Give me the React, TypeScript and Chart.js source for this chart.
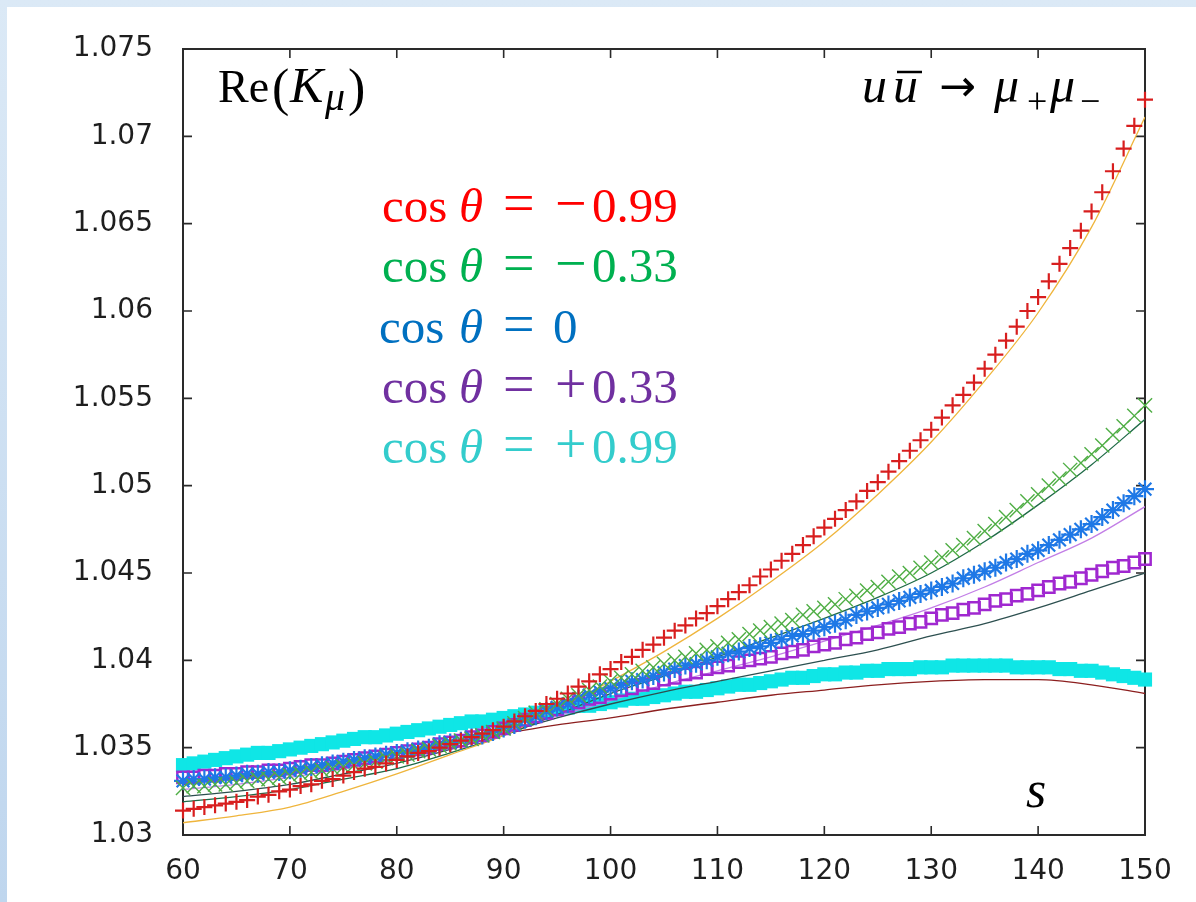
import React, { useEffect, useRef } from "react";
import { Chart, registerables } from "chart.js";

Chart.register(...registerables);

// s values for marker series
const sPoints = [
  60, 61, 62, 63, 64, 65, 66, 67, 68, 69,
  70, 71, 72, 73, 74, 75, 76, 77, 78, 79,
  80, 81, 82, 83, 84, 85, 86, 87, 88, 89,
  90, 91, 92, 93, 94, 95, 96, 97, 98, 99,
  100, 101, 102, 103, 104, 105, 106, 107, 108, 109,
  110, 111, 112, 113, 114, 115, 116, 117, 118, 119,
  120, 121, 122, 123, 124, 125, 126, 127, 128, 129,
  130, 131, 132, 133, 134, 135, 136, 137, 138, 139,
  140, 141, 142, 143, 144, 145, 146, 147, 148, 149,
  150,
];

// s values for thin line series
const sLine = [60, 65, 70, 75, 80, 85, 90, 95, 100, 105, 110, 115, 120, 125, 130, 135, 140, 145, 150];

// cos θ = -0.99 (red +)
const redPlus = [
  1.0314, 1.0315, 1.0316, 1.0317, 1.0318, 1.0319, 1.032, 1.0322, 1.0323, 1.0325,
  1.0326, 1.0328, 1.0329, 1.0331, 1.0332, 1.0334, 1.0336, 1.0338, 1.0339, 1.0341,
  1.0343, 1.0345, 1.0347, 1.0348, 1.035, 1.0352, 1.0354, 1.0356, 1.0358, 1.036,
  1.0362, 1.0365, 1.0368, 1.0371, 1.0375, 1.0378, 1.0381, 1.0385, 1.0388, 1.0392,
  1.0395, 1.0399, 1.0402, 1.0406, 1.0409, 1.0413, 1.0417, 1.042, 1.0424, 1.0427,
  1.0431, 1.0435, 1.0439, 1.0443, 1.0448, 1.0452, 1.0457, 1.0461, 1.0466, 1.0471,
  1.0476, 1.0481, 1.0486, 1.0491, 1.0497, 1.0502, 1.0508, 1.0514, 1.052, 1.0526,
  1.0532, 1.0539, 1.0546, 1.0552, 1.0559, 1.0567, 1.0575, 1.0583, 1.0591, 1.06,
  1.0608, 1.0617, 1.0627, 1.0636, 1.0646, 1.0657, 1.0668, 1.068, 1.0693, 1.0706,
  1.0721,
];

// cos θ = -0.33 (green x)
const greenX = [
  1.0327, 1.0328, 1.0328, 1.0329, 1.0329, 1.033, 1.0331, 1.0332, 1.0332, 1.0333,
  1.0334, 1.0335, 1.0336, 1.0337, 1.0338, 1.0339, 1.034, 1.0341, 1.0342, 1.0344,
  1.0345, 1.0346, 1.0348, 1.0349, 1.0351, 1.0352, 1.0354, 1.0355, 1.0357, 1.0359,
  1.0361, 1.0364, 1.0367, 1.037, 1.0372, 1.0375, 1.0378, 1.038, 1.0383, 1.0385,
  1.0388, 1.039, 1.0392, 1.0394, 1.0396, 1.0398, 1.04, 1.0402, 1.0404, 1.0406,
  1.0408, 1.041, 1.0412, 1.0415, 1.0417, 1.0419, 1.0421, 1.0423, 1.0426, 1.0428,
  1.043, 1.0432, 1.0435, 1.0437, 1.044, 1.0442, 1.0445, 1.0448, 1.045, 1.0453,
  1.0456, 1.0459, 1.0463, 1.0466, 1.047, 1.0474, 1.0478, 1.0482, 1.0486, 1.0491,
  1.0495, 1.05, 1.0504, 1.0509, 1.0513, 1.0518, 1.0523, 1.0529, 1.0534, 1.054,
  1.0546,
];

// cos θ = 0 (blue *)
const blueStar = [
  1.0331, 1.0332, 1.0332, 1.0333, 1.0333, 1.0334, 1.0335, 1.0335, 1.0336, 1.0336,
  1.0337, 1.0338, 1.0339, 1.034, 1.0341, 1.0342, 1.0343, 1.0344, 1.0345, 1.0346,
  1.0347, 1.0348, 1.0349, 1.035, 1.0352, 1.0353, 1.0354, 1.0356, 1.0357, 1.0359,
  1.0361, 1.0363, 1.0366, 1.0368, 1.0371, 1.0373, 1.0375, 1.0378, 1.038, 1.0382,
  1.0384, 1.0386, 1.0388, 1.0389, 1.0391, 1.0393, 1.0395, 1.0397, 1.0398, 1.04,
  1.0402, 1.0404, 1.0405, 1.0407, 1.0408, 1.041, 1.0412, 1.0414, 1.0415, 1.0417,
  1.0419, 1.0421, 1.0423, 1.0426, 1.0428, 1.043, 1.0432, 1.0434, 1.0436, 1.0438,
  1.044, 1.0442, 1.0444, 1.0447, 1.0449, 1.0451, 1.0453, 1.0456, 1.0458, 1.0461,
  1.0463, 1.0466, 1.0469, 1.0472, 1.0475, 1.0478, 1.0482, 1.0486, 1.049, 1.0494,
  1.0498,
];

// cos θ = +0.33 (purple open squares)
const purpleSquare = [
  1.0333, 1.0333, 1.0334, 1.0334, 1.0335, 1.0335, 1.0336, 1.0336, 1.0337, 1.0337,
  1.0338, 1.0339, 1.034, 1.034, 1.0341, 1.0342, 1.0343, 1.0344, 1.0345, 1.0346,
  1.0347, 1.0348, 1.0349, 1.035, 1.0352, 1.0353, 1.0354, 1.0356, 1.0357, 1.0359,
  1.0361, 1.0363, 1.0366, 1.0368, 1.037, 1.0372, 1.0374, 1.0376, 1.0378, 1.0379,
  1.0381, 1.0383, 1.0384, 1.0386, 1.0387, 1.0389, 1.039, 1.0392, 1.0393, 1.0395,
  1.0396, 1.0397, 1.0399, 1.04, 1.0401, 1.0402, 1.0404, 1.0405, 1.0406, 1.0408,
  1.0409, 1.041, 1.0412, 1.0413, 1.0415, 1.0416, 1.0418, 1.0419, 1.0421, 1.0422,
  1.0424, 1.0426, 1.0427, 1.0429, 1.043, 1.0432, 1.0434, 1.0435, 1.0437, 1.0438,
  1.044, 1.0442, 1.0444, 1.0445, 1.0447, 1.0449, 1.0451, 1.0453, 1.0454, 1.0456,
  1.0458,
];

// cos θ = +0.99 (cyan filled squares)
const cyanSquare = [
  1.034, 1.0341, 1.0342, 1.0343, 1.0344, 1.0345, 1.0346, 1.0347, 1.0347, 1.0348,
  1.0349, 1.035, 1.0351, 1.0352, 1.0353, 1.0354, 1.0355, 1.0356, 1.0356, 1.0357,
  1.0358, 1.0359, 1.036, 1.0361, 1.0362, 1.0363, 1.0364, 1.0365, 1.0365, 1.0366,
  1.0367, 1.0368, 1.0369, 1.037, 1.0371, 1.0372, 1.0373, 1.0374, 1.0374, 1.0375,
  1.0376, 1.0377, 1.0378, 1.0378, 1.0379, 1.038, 1.0381, 1.0382, 1.0382, 1.0383,
  1.0384, 1.0385, 1.0386, 1.0386, 1.0387, 1.0388, 1.0389, 1.039, 1.039, 1.0391,
  1.0392, 1.0392, 1.0393, 1.0393, 1.0394, 1.0394, 1.0395, 1.0395, 1.0395, 1.0396,
  1.0396, 1.0396, 1.0397, 1.0397, 1.0397, 1.0397, 1.0397, 1.0397, 1.0396, 1.0396,
  1.0396, 1.0396, 1.0395, 1.0395, 1.0394, 1.0394, 1.0393, 1.0392, 1.0391, 1.039,
  1.0389,
];

// thin companion curves
const orangeLine = [1.0307, 1.0311, 1.0316, 1.0325, 1.0335, 1.0346, 1.0357, 1.0372, 1.0388, 1.0405, 1.0424, 1.0445, 1.0468, 1.0495, 1.0525, 1.056, 1.0599, 1.0648, 1.0711];
const darkGreenLine = [1.0319, 1.0322, 1.0326, 1.0332, 1.0338, 1.0347, 1.0357, 1.0369, 1.0381, 1.0391, 1.0402, 1.0413, 1.0424, 1.0436, 1.045, 1.0468, 1.0489, 1.0512, 1.0538];
const violetLine = [1.0326, 1.0329, 1.0333, 1.0338, 1.0344, 1.0351, 1.0359, 1.0368, 1.0377, 1.0386, 1.0394, 1.0402, 1.0411, 1.042, 1.043, 1.0442, 1.0456, 1.047, 1.0488];
const slateLine = [1.0322, 1.0325, 1.0329, 1.0335, 1.0341, 1.0349, 1.0358, 1.0367, 1.0375, 1.0382, 1.0388, 1.0394, 1.04, 1.0406, 1.0414, 1.0421, 1.043, 1.044, 1.045];
const brownLine = [1.0329, 1.0333, 1.0337, 1.0342, 1.0347, 1.0353, 1.0358, 1.0363, 1.0367, 1.0372, 1.0376, 1.038, 1.0383, 1.0386, 1.0388, 1.0389, 1.0389, 1.0386, 1.0381];

const xTicks = [60, 70, 80, 90, 100, 110, 120, 130, 140, 150];
const yTicks = [1.03, 1.035, 1.04, 1.045, 1.05, 1.055, 1.06, 1.065, 1.07, 1.075];

const legendLabels = [
  { sign: "\u2212", num: "0.99", color: "#ff0000" },
  { sign: "\u2212", num: "0.33", color: "#00b050" },
  { sign: "", num: "0", color: "#0070c0" },
  { sign: "+", num: "0.33", color: "#7030a0" },
  { sign: "+", num: "0.99", color: "#33cccc" },
];

const pts = (xs: number[], ys: number[]) => xs.map((x, i) => ({ x, y: ys[i] }));

const SERIF = "'Liberation Serif', 'DejaVu Serif', serif";

const framePlugin = {
  id: "frame",
  beforeDatasetsDraw(chart: any) {
    const { ctx, chartArea } = chart;
    const { left, right, top, bottom } = chartArea;
    const xs = chart.scales.x;
    const ys = chart.scales.y;
    ctx.save();
    ctx.strokeStyle = "#2a2a2a";
    ctx.lineWidth = 1.6;
    const tl = 9;
    ctx.beginPath();
    xTicks.forEach((v) => {
      const px = xs.getPixelForValue(v);
      ctx.moveTo(px, bottom);
      ctx.lineTo(px, bottom - tl);
      ctx.moveTo(px, top);
      ctx.lineTo(px, top + tl);
    });
    yTicks.forEach((v) => {
      const py = ys.getPixelForValue(v);
      ctx.moveTo(left, py);
      ctx.lineTo(left + tl, py);
      ctx.moveTo(right, py);
      ctx.lineTo(right - tl, py);
    });
    ctx.stroke();
    ctx.lineWidth = 2;
    ctx.strokeRect(left, top, right - left, bottom - top);
    ctx.restore();
  },
};

const textPlugin = {
  id: "texts",
  afterDraw(chart: any) {
    const { ctx } = chart;
    ctx.save();
    ctx.textAlign = "left";
    ctx.textBaseline = "alphabetic";
    ctx.fillStyle = "#000000";
    // Re(K_mu)
    ctx.font = `46px ${SERIF}`;
    ctx.fillText("Re", 218, 102);
    ctx.font = `52px ${SERIF}`;
    ctx.fillText("(", 272, 105);
    ctx.font = `italic 50px ${SERIF}`;
    ctx.fillText("K", 290, 102);
    ctx.font = `italic 40px ${SERIF}`;
    ctx.fillText("\u03bc", 325, 110);
    ctx.font = `52px ${SERIF}`;
    ctx.fillText(")", 348, 105);

    // u ubar -> mu+ mu-
    ctx.font = `italic 50px ${SERIF}`;
    ctx.fillText("u", 862, 102);
    ctx.fillText("u", 893, 102);
    ctx.strokeStyle = "#000";
    ctx.lineWidth = 2.5;
    ctx.beginPath();
    ctx.moveTo(897, 72);
    ctx.lineTo(922, 72);
    ctx.stroke();
    ctx.font = `44px 'DejaVu Sans', sans-serif`;
    ctx.fillText("\u2192", 939, 101);
    ctx.font = `italic 50px ${SERIF}`;
    ctx.fillText("\u03bc", 994, 102);
    ctx.font = `36px ${SERIF}`;
    ctx.fillText("+", 1027, 113);
    ctx.font = `italic 50px ${SERIF}`;
    ctx.fillText("\u03bc", 1050, 102);
    ctx.font = `36px ${SERIF}`;
    ctx.fillText("\u2212", 1080, 113);

    // s
    ctx.font = `italic 52px ${SERIF}`;
    ctx.fillText("s", 1026, 807);

    // legend text
    legendLabels.forEach((l, i) => {
      const yb = 222 + i * 60.3;
      ctx.fillStyle = l.color;
      ctx.font = `49px ${SERIF}`;
      ctx.fillText("cos", i === 2 ? 379 : 382, yb);
      ctx.font = `italic 49px ${SERIF}`;
      ctx.fillText("\u03b8", 459, yb);
      ctx.font = `56px ${SERIF}`;
      ctx.fillText("=", 503, yb);
      if (l.sign) {
        ctx.fillText(l.sign, 555, yb);
        ctx.font = `49px ${SERIF}`;
        ctx.fillText(l.num, 592, yb);
      } else {
        ctx.font = `49px ${SERIF}`;
        ctx.fillText(l.num, 553, yb);
      }
    });
    ctx.restore();
  },
};

export default function App() {
  const ref = useRef<HTMLCanvasElement | null>(null);

  useEffect(() => {
    if (!ref.current) return;
    const markerBase = { showLine: false, clip: false as any, pointHoverRadius: 0 };
    const lineBase = {
      pointRadius: 0,
      borderWidth: 1.3,
      tension: 0.35,
      cubicInterpolationMode: "monotone" as const,
      fill: false,
    };
    const chart = new Chart(ref.current, {
      type: "line",
      data: {
        datasets: [
          {
            ...markerBase,
            label: "cos=-0.99",
            data: pts(sPoints, redPlus),
            pointStyle: "cross",
            pointRadius: 8,
            pointBorderWidth: 2.2,
            borderColor: "#d81e1e",
            backgroundColor: "#d81e1e",
          },
          {
            ...markerBase,
            label: "cos=-0.33",
            data: pts(sPoints, greenX),
            pointStyle: "crossRot",
            pointRadius: 10,
            pointBorderWidth: 1.4,
            borderColor: "#4fae45",
            backgroundColor: "#4fae45",
          },
          {
            ...markerBase,
            label: "cos=0",
            data: pts(sPoints, blueStar),
            pointStyle: "star",
            pointRadius: 9,
            pointBorderWidth: 2.2,
            borderColor: "#1e78e6",
            backgroundColor: "#1e78e6",
          },
          {
            ...markerBase,
            label: "cos=+0.33",
            data: pts(sPoints, purpleSquare),
            pointStyle: "rect",
            pointRadius: 8,
            pointBorderWidth: 2.5,
            borderColor: "#a028d0",
            backgroundColor: "rgba(0,0,0,0)",
          },
          { ...lineBase, label: "l1", data: pts(sLine, orangeLine), borderColor: "#efb53c" },
          { ...lineBase, label: "l2", data: pts(sLine, darkGreenLine), borderColor: "#1f6a47" },
          { ...lineBase, label: "l3", data: pts(sLine, violetLine), borderColor: "#c27ee6" },
          { ...lineBase, label: "l4", data: pts(sLine, slateLine), borderColor: "#2d5050" },
          { ...lineBase, label: "l5", data: pts(sLine, brownLine), borderColor: "#8c1f1f" },
          {
            ...markerBase,
            label: "cos=+0.99",
            data: pts(sPoints, cyanSquare),
            pointStyle: "rect",
            pointRadius: 10,
            pointBorderWidth: 0,
            borderColor: "#0fe6e6",
            backgroundColor: "#0fe6e6",
          },
        ],
      },
      options: {
        responsive: false,
        devicePixelRatio: 1,
        animation: false,
        events: [],
        layout: { padding: { left: 0, right: 51, top: 49, bottom: 0 } },
        plugins: { legend: { display: false }, tooltip: { enabled: false } },
        scales: {
          x: {
            type: "linear",
            min: 60,
            max: 150,
            grid: { display: false, drawTicks: false },
            border: { display: false },
            afterFit: (s: any) => {
              s.height = 67;
            },
            afterBuildTicks: (s: any) => {
              s.ticks = xTicks.map((v) => ({ value: v }));
            },
            ticks: {
              padding: 20,
              color: "#1e1e1e",
              font: { family: "'DejaVu Sans', sans-serif", size: 28 },
              maxRotation: 0,
              autoSkip: false,
              callback: (v: any) => String(v),
            },
          },
          y: {
            type: "linear",
            min: 1.03,
            max: 1.075,
            grid: { display: false, drawTicks: false },
            border: { display: false },
            afterFit: (s: any) => {
              s.width = 183;
            },
            afterBuildTicks: (s: any) => {
              s.ticks = yTicks.map((v) => ({ value: v }));
            },
            ticks: {
              padding: 30,
              color: "#1e1e1e",
              font: { family: "'DejaVu Sans', sans-serif", size: 28 },
              autoSkip: false,
              callback: (v: any) => String(Number(Number(v).toFixed(3))),
            },
          },
        },
      },
      plugins: [framePlugin, textPlugin],
    } as any);
    return () => chart.destroy();
  }, []);

  return (
    <div
      style={{
        position: "absolute",
        left: 0,
        top: 0,
        width: 1196,
        height: 902,
        background: "linear-gradient(to bottom, #dbe9f6, #bfd6ee)",
        overflow: "hidden",
      }}
    >
      <div
        style={{
          position: "absolute",
          left: 7,
          top: 7,
          width: 1189,
          height: 895,
          background: "#ffffff",
        }}
      />
      <canvas
        ref={ref}
        width={1196}
        height={902}
        style={{ position: "absolute", left: 0, top: 0, width: 1196, height: 902 }}
      />
    </div>
  );
}
